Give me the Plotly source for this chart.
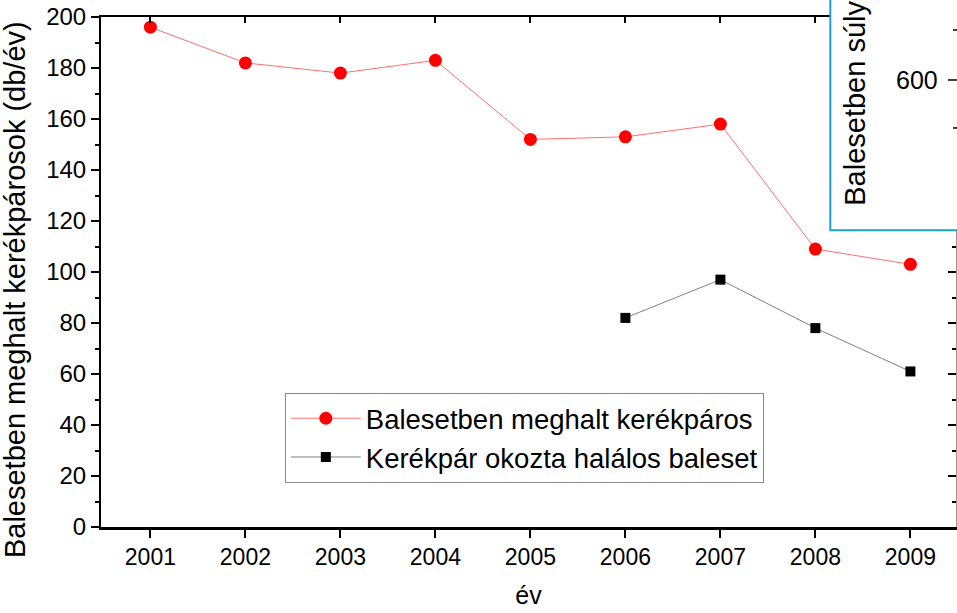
import plotly.graph_objects as go

YEARS = [2001, 2002, 2003, 2004, 2005, 2006, 2007, 2008, 2009]
KILLED = [196, 182, 178, 183, 152, 153, 158, 109, 103]
CAUSED_YEARS = [2006, 2007, 2008, 2009]
CAUSED = [82, 97, 78, 61]
TICK_TEXT = [str(y) for y in YEARS]

SERIES1 = "Balesetben meghalt kerékpáros"
SERIES2 = "Kerékpár okozta halálos baleset"
YTITLE = "Balesetben meghalt kerékpárosok (db/év)"
XTITLE = "év"
INSET_TITLE = "Balesetben súly"
INSET_TICK = "600"

FONT = "Liberation Sans, Arial, sans-serif"
TEAL = "#1aa2cb"

fig = go.Figure()
fig.add_trace(go.Scatter(
    x=YEARS, y=KILLED, name=SERIES1, mode="lines+markers",
    line=dict(color="#ff7070", width=1),
    marker=dict(symbol="circle", size=13, color="#ff0000"),
))
fig.add_trace(go.Scatter(
    x=CAUSED_YEARS, y=CAUSED, name=SERIES2, mode="lines+markers",
    line=dict(color="#808080", width=1),
    marker=dict(symbol="square", size=10, color="#000000"),
))
# invisible trace to activate mirrored axes
fig.add_trace(go.Scatter(
    x=YEARS, y=KILLED, xaxis="x2", yaxis="y2", mode="markers",
    marker=dict(opacity=0), showlegend=False, hoverinfo="skip",
))

xr = [2000.48, 2009.48]
yr = [0, 200]

fig.update_layout(
    width=957, height=613,
    margin=dict(l=101, r=1, t=17, b=86, autoexpand=False),
    paper_bgcolor="white", plot_bgcolor="white",
    font=dict(family=FONT, size=23, color="black"),
    showlegend=True,
    legend=dict(
        x=0.215, y=0.263, xanchor="left", yanchor="top",
        bgcolor="white", bordercolor="#888888", borderwidth=1,
        font=dict(size=27.5), itemwidth=70, tracegroupgap=0,
    ),
    xaxis=dict(
        range=xr, tickmode="array", tickvals=YEARS, ticktext=TICK_TEXT,
        ticks="outside", ticklen=8, tickwidth=1.5, tickcolor="black",
        showline=True, linewidth=2.5, linecolor="black", showgrid=False,
        zeroline=False, tickfont=dict(size=23), automargin=False,
        title=dict(text=XTITLE, font=dict(size=25), standoff=18),
    ),
    xaxis2=dict(
        range=xr, overlaying="x", side="top", tickmode="array", tickvals=YEARS,
        ticks="inside", ticklen=6, tickwidth=1.5, tickcolor="black",
        showticklabels=False, showline=True, linewidth=2, linecolor="black",
        showgrid=False, zeroline=False,
    ),
    yaxis=dict(
        range=yr, dtick=20, tick0=0, ticks="outside", ticklen=8, tickwidth=1.5,
        tickcolor="black", showline=True, linewidth=2, linecolor="black",
        showgrid=False, zeroline=False, tickfont=dict(size=24), automargin=False,
        minor=dict(dtick=10, ticks="outside", ticklen=4, tickwidth=1.5, tickcolor="black", showgrid=False),
    ),
    yaxis2=dict(
        range=yr, dtick=20, tick0=0, overlaying="y", side="right",
        ticks="inside", ticklen=8, tickwidth=1.5, tickcolor="black",
        showticklabels=False, showline=True, linewidth=1.5, linecolor="#999999",
        showgrid=False, zeroline=False,
        minor=dict(dtick=10, ticks="inside", ticklen=4, tickwidth=1.5, tickcolor="black", showgrid=False),
    ),
)

# y-axis title as annotation to match its vertical position
fig.add_annotation(
    text=YTITLE, textangle=-90, xref="paper", yref="paper",
    x=-0.1003, y=0.465, xanchor="center", yanchor="middle", showarrow=False,
    font=dict(size=29, family=FONT),
)

# overlapping inset panel in the top-right corner
fig.add_shape(type="rect", xref="paper", yref="paper",
              x0=0.853, x1=1.2, y0=0.582, y1=1.2,
              fillcolor="white", line=dict(color=TEAL, width=2), layer="above")
fig.add_shape(type="line", xref="paper", yref="paper",
              x0=0.9906, x1=1.02, y0=0.8765, y1=0.8765,
              line=dict(color="black", width=1.5), layer="above")
for yy in (0.9745, 0.7824):
    fig.add_shape(type="line", xref="paper", yref="paper",
                  x0=0.9965, x1=1.02, y0=yy, y1=yy,
                  line=dict(color="black", width=1.5), layer="above")
fig.add_annotation(
    text=INSET_TICK, xref="paper", yref="paper", x=0.981, y=0.8765,
    xanchor="right", yanchor="middle", showarrow=False,
    font=dict(size=25, family=FONT),
)
fig.add_annotation(
    text=INSET_TITLE, textangle=-90, xref="paper", yref="paper",
    x=0.8819, y=0.625, xanchor="center", yanchor="bottom", showarrow=False,
    font=dict(size=29, family=FONT),
)

fig.write_html(
    "out.html",
    config={"displayModeBar": False},
    post_script="document.body.style.margin='0px';document.body.style.overflow='hidden';",
)
